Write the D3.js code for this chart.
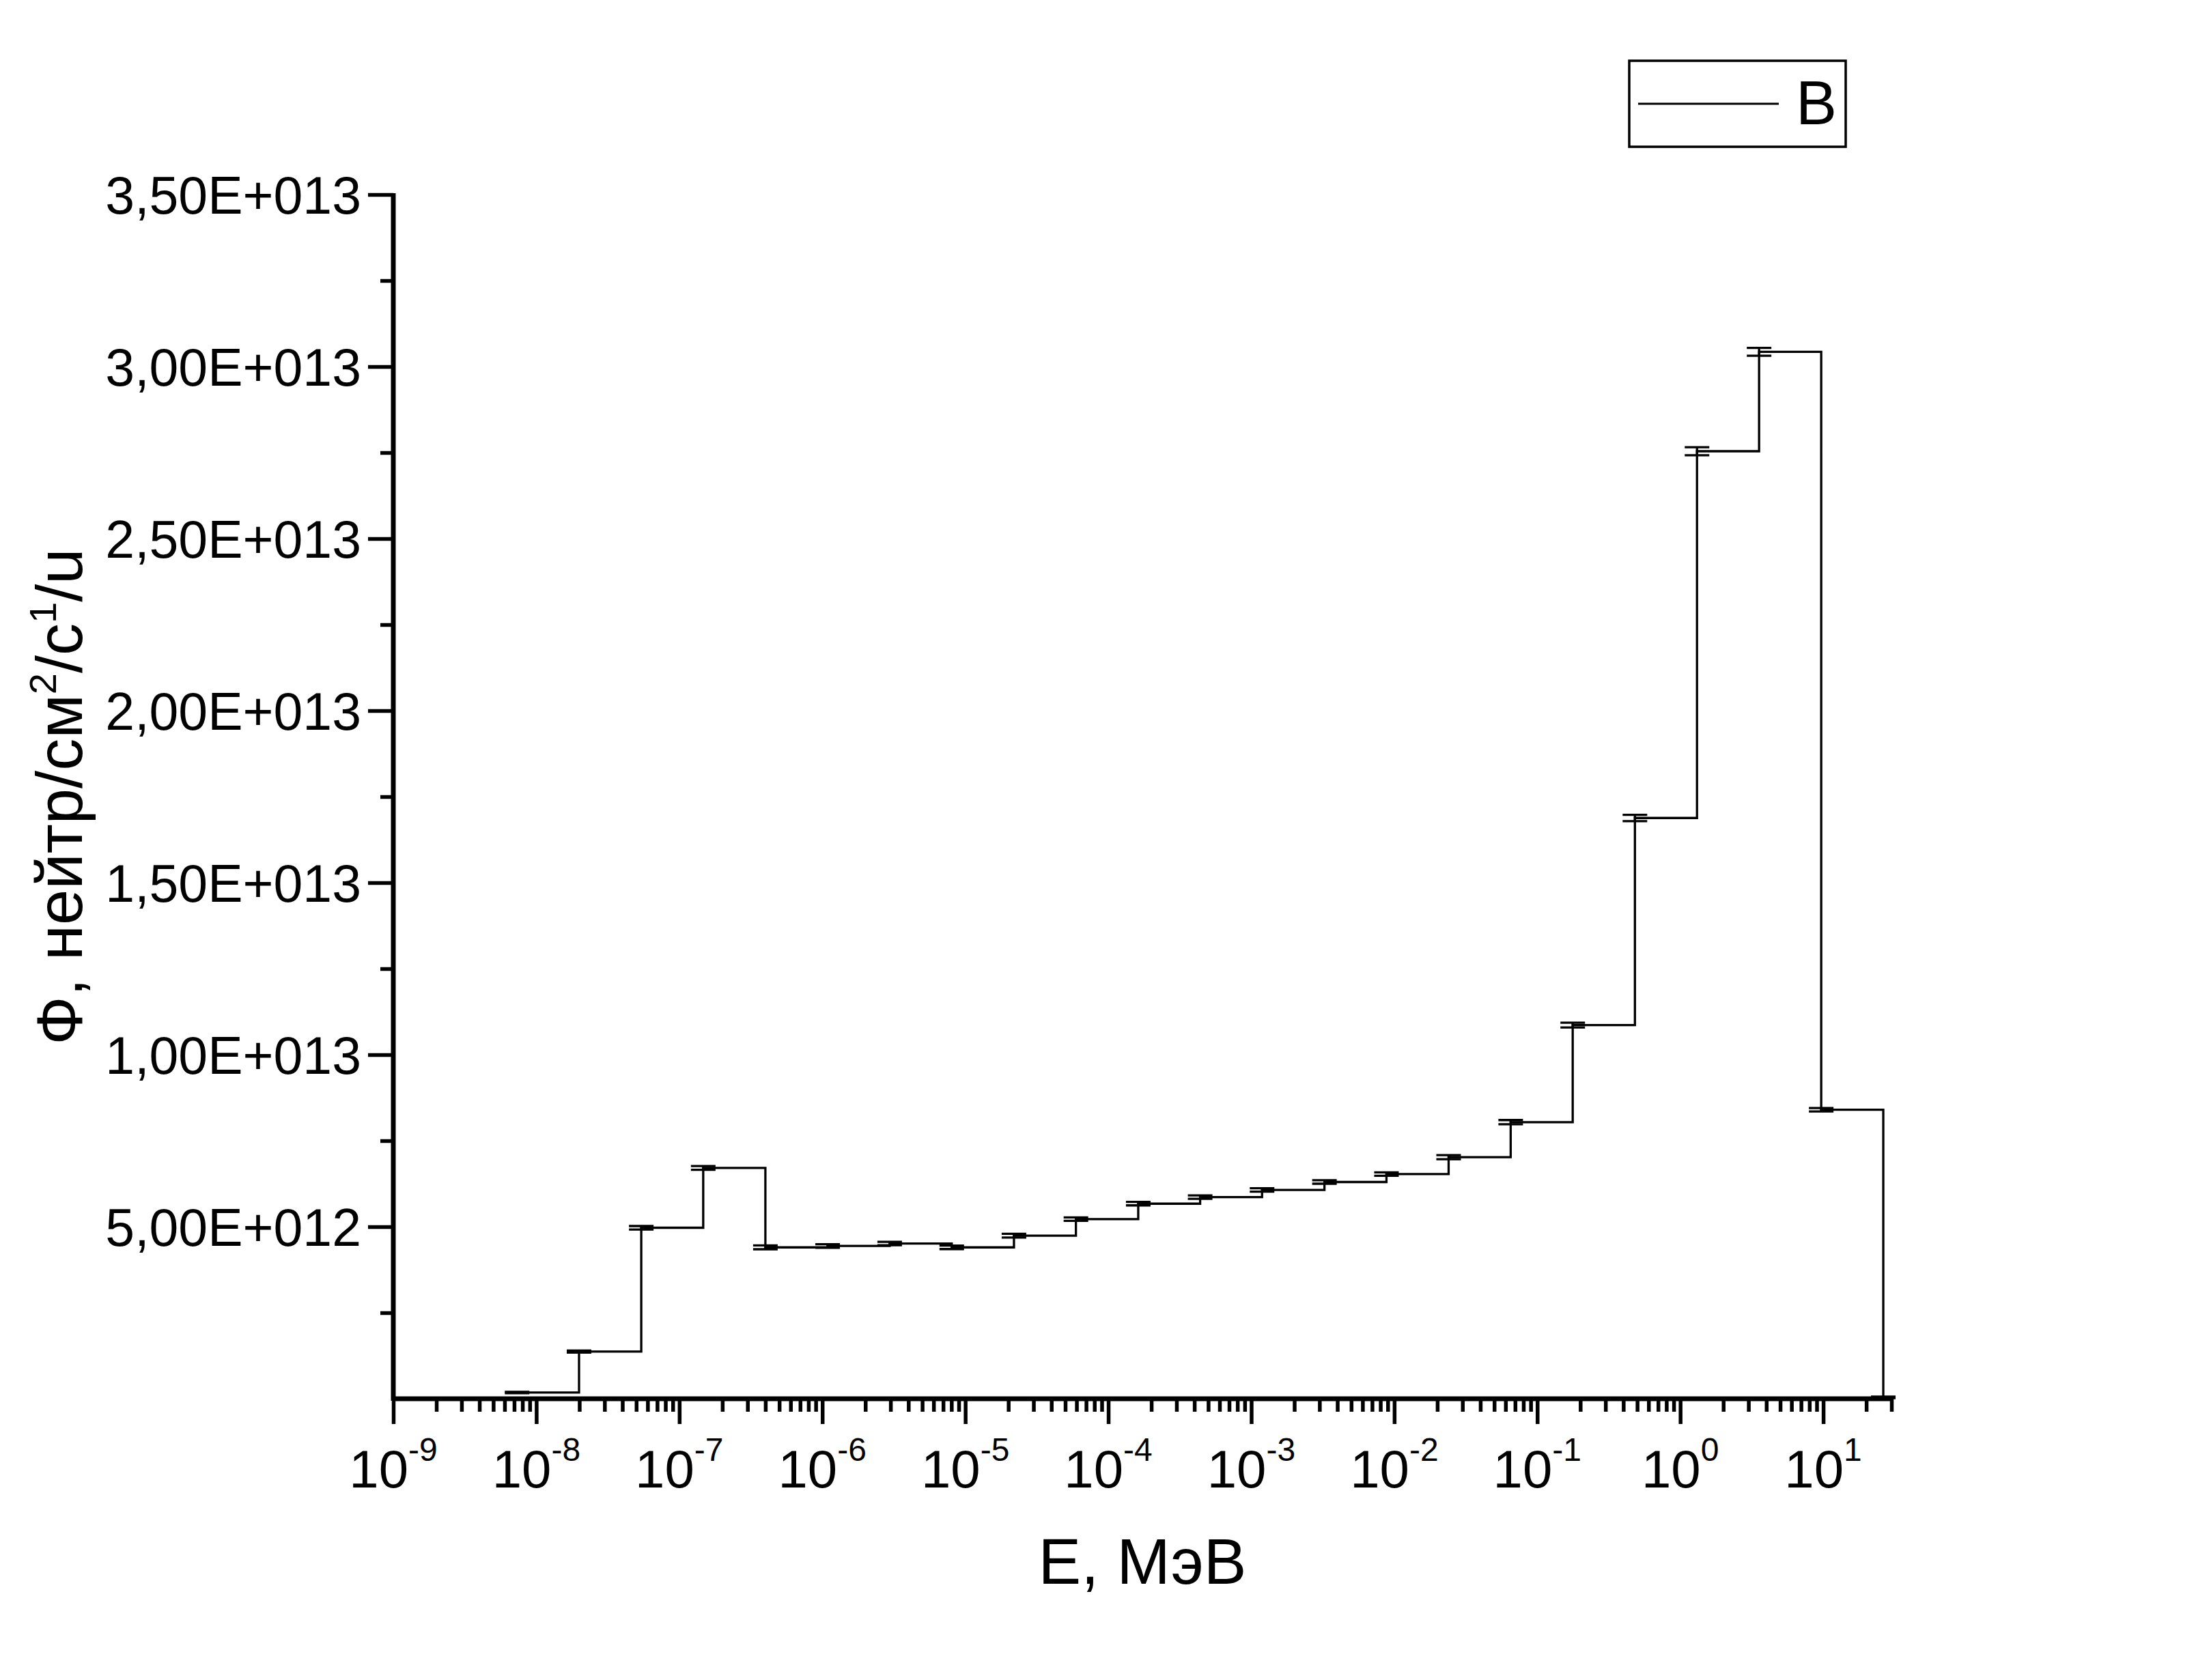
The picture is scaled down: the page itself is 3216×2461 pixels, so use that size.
<!DOCTYPE html>
<html>
<head>
<meta charset="utf-8">
<script src="https://cdn.jsdelivr.net/npm/d3@7"></script>
<style>
  html, body { margin: 0; padding: 0; background: #fff; }
  svg { display: block; }
  text { font-family: "Liberation Sans", Arial, sans-serif; fill: #000; }
</style>
</head>
<body>
<script>
// ---------- data ----------
const energies = [7.34e-9, 1.99e-8, 5.42e-8, 1.47e-7, 4.0e-7, 1.09e-6, 2.96e-6, 8.04e-6,
  2.19e-5, 5.94e-5, 1.62e-4, 4.39e-4, 1.19e-3, 3.25e-3, 8.82e-3, 2.40e-2, 6.52e-2,
  0.177, 0.482, 1.31, 3.56, 9.68, 26.3];
const flux = [1.8e11, 1.37e12, 4.97e12, 6.71e12, 4.40e12, 4.44e12, 4.51e12, 4.40e12,
  4.74e12, 5.22e12, 5.67e12, 5.86e12, 6.07e12, 6.30e12, 6.53e12, 7.02e12, 8.04e12,
  1.086e13, 1.688e13, 2.754e13, 3.043e13, 8.40e12, 4.0e10];
const fluxErr = [2e10, 3e10, 5e10, 5.5e10, 5.5e10, 5e10, 5e10, 5e10,
  5.3e10, 5e10, 5e10, 5e10, 5e10, 5e10, 5e10, 6e10, 6e10,
  7e10, 9e10, 1.15e11, 1.15e11, 5e10, 2e10];

const xMajorExponents = [-9, -8, -7, -6, -5, -4, -3, -2, -1, 0, 1];
const yMajorTicks = [5e12, 1e13, 1.5e13, 2e13, 2.5e13, 3e13, 3.5e13];
const yTickLabels = ["5,00E+012", "1,00E+013", "1,50E+013", "2,00E+013", "2,50E+013", "3,00E+013", "3,50E+013"];
const yMinorTicks = [2.5e12, 7.5e12, 1.25e13, 1.75e13, 2.25e13, 2.75e13, 3.25e13];
const seriesName = "B";
const xTitle = "E, МэВ";

// ---------- layout ----------
const W = 3216, H = 2461;
const svg = d3.select("body").append("svg").attr("width", W).attr("height", H);
svg.append("rect").attr("width", W).attr("height", H).attr("fill", "#fff");

const x = d3.scaleLog().domain([1e-9, 30]).range([576, 2770]);
const y = d3.scaleLinear().domain([0, 3.5e13]).range([2049, 285]);

// minor x ticks: 2..9 in each decade, within domain
const xMinor = [];
for (let e = -9; e <= 1; e++) for (let m = 2; m <= 9; m++) {
  const v = m * Math.pow(10, e);
  if (v <= 30) xMinor.push(v);
}
const xMajor = xMajorExponents.map(e => Math.pow(10, e));

const axisStroke = 7, tickStroke = 5.5;

// X axis
const gx = svg.append("g").attr("transform", `translate(0,${y(0)})`);
gx.append("g").call(d3.axisBottom(x).tickValues(xMinor).tickSize(19).tickSizeOuter(0).tickFormat(""))
  .call(g => g.select(".domain").remove());
gx.append("g").call(d3.axisBottom(x).tickValues(xMajor).tickSize(37).tickSizeOuter(0).tickFormat(""))
  .call(g => g.select(".domain").attr("stroke-width", axisStroke).attr("d", `M${x.range()[0]},0H${x.range()[1] + 3}`));
gx.selectAll(".tick line").attr("stroke-width", tickStroke);

const xl = gx.append("g");
xMajorExponents.forEach(e => {
  const t = xl.append("text").attr("x", x(Math.pow(10, e))).attr("y", 130)
    .attr("text-anchor", "middle").attr("font-size", 78);
  t.append("tspan").text("10");
  t.append("tspan").attr("font-size", 48).attr("dy", -39).text(String(e));
});

// Y axis
const gy = svg.append("g").attr("transform", `translate(${x(1e-9)},0)`);
gy.append("g").call(d3.axisLeft(y).tickValues(yMinorTicks).tickSize(19).tickSizeOuter(0).tickFormat(""))
  .call(g => g.select(".domain").remove());
gy.append("g").call(d3.axisLeft(y).tickValues(yMajorTicks).tickSize(37).tickSizeOuter(0)
    .tickFormat((d, i) => yTickLabels[i]).tickPadding(10))
  .call(g => g.select(".domain").attr("stroke-width", axisStroke).attr("d", `M0,${y(3.5e13) - 2}V${y(0) + 3}`));
gy.selectAll(".tick line").attr("stroke-width", tickStroke);
gy.selectAll(".tick text").attr("font-size", 77).attr("font-family", "Liberation Sans, Arial, sans-serif").attr("dy", "0.36em");

// Axis titles
svg.append("text").attr("x", (x.range()[0] + x.range()[1]) / 2).attr("y", 2320)
  .attr("text-anchor", "middle").attr("font-size", 94).text(xTitle);

const yt = svg.append("text").attr("transform", `translate(120,${(y.range()[0] + y.range()[1]) / 2}) rotate(-90)`)
  .attr("text-anchor", "middle").attr("font-size", 94);
yt.append("tspan").text("Ф, нейтр/см");
yt.append("tspan").attr("font-size", 56).attr("dy", -38).text("2");
yt.append("tspan").attr("dy", 38).text("/с");
yt.append("tspan").attr("font-size", 56).attr("dy", -38).text("1");
yt.append("tspan").attr("dy", 38).text("/u");

// Data
const pts = energies.map((e, i) => ({ e, v: flux[i], err: fluxErr[i] }));
const line = d3.line().x(d => x(d.e)).y(d => y(d.v)).curve(d3.curveStepAfter);
svg.append("path").datum(pts).attr("d", line).attr("fill", "none").attr("stroke", "#000")
  .attr("stroke-width", 3.3);

const eb = svg.append("g").attr("stroke", "#000").attr("stroke-width", 3.3);
pts.forEach(d => {
  const cx = x(d.e), y1 = y(d.v + d.err), y2 = y(d.v - d.err);
  eb.append("line").attr("x1", cx).attr("x2", cx).attr("y1", y1).attr("y2", y2);
  eb.append("line").attr("x1", cx - 18).attr("x2", cx + 18).attr("y1", y1).attr("y2", y1);
  eb.append("line").attr("x1", cx - 18).attr("x2", cx + 18).attr("y1", y2).attr("y2", y2);
});

// Legend
const lg = svg.append("g");
lg.append("rect").attr("x", 2386).attr("y", 89).attr("width", 317).attr("height", 126)
  .attr("fill", "none").attr("stroke", "#000").attr("stroke-width", 3.5);
lg.append("line").attr("x1", 2399).attr("x2", 2605).attr("y1", 152).attr("y2", 152)
  .attr("stroke", "#000").attr("stroke-width", 2.8);
lg.append("text").attr("x", 2630).attr("y", 182).attr("font-size", 90).text(seriesName);
</script>
</body>
</html>
